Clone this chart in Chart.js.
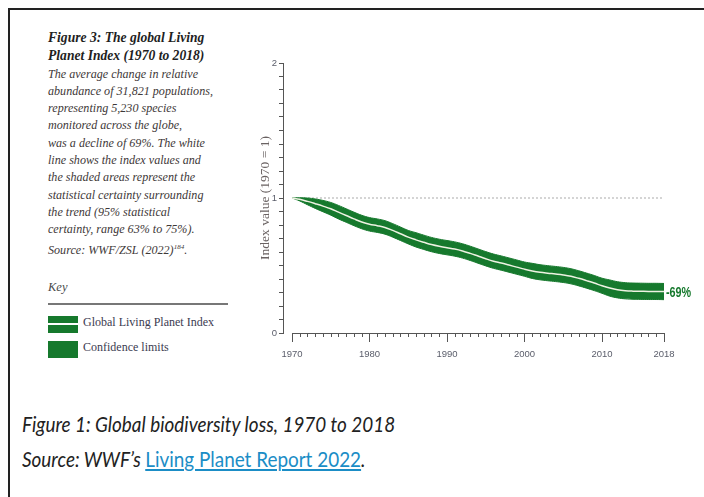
<!DOCTYPE html>
<html>
<head>
    <title>Global Living Planet Index</title>
    <script src="https://cdn.jsdelivr.net/npm/chart.js"></script>
    <style>
        body { margin: 0; background: #fff; width: 704px; height: 497px; overflow: hidden; position: relative; }
        .frame-top { position: absolute; left: 8px; top: 8px; width: 696px; height: 2px; background: #222; }
        .frame-left { position: absolute; left: 8px; top: 8px; width: 2px; height: 489px; background: #222; }
        .side { position: absolute; left: 48px; top: 29px; width: 185px; font-family: 'Liberation Serif', serif; font-style: italic; font-size: 12.1px; line-height: 17.3px; color: #3e3838; white-space: nowrap; }
        .side b { color: #221e1e; font-size: 13.6px; }
        .key { position: absolute; left: 48px; top: 280px; font-family: 'Liberation Serif', serif; font-style: italic; font-size: 12.5px; color: #4a4a4a; }
        .key-rule { position: absolute; left: 48px; top: 303px; width: 180px; height: 2px; background: #777; }
        .swatch { position: absolute; left: 48px; width: 30px; height: 17px; background: #16792d; }
        .swatch .stripe { position: absolute; left: 0; top: 7px; width: 30px; height: 2px; background: #fff; }
        .key-label { position: absolute; left: 83px; font-family: 'Liberation Serif', serif; font-size: 12px; color: #3b3b50; }
        .chart-box { position: absolute; left: 240px; top: 40px; width: 464px; height: 345px; }
        .caption { position: absolute; left: 22px; font-family: Lato, sans-serif; font-style: italic; font-size: 21px; color: #222; white-space: nowrap; transform: scaleX(0.9); transform-origin: left center; }
        .caption a { color: #1b8dc6; text-decoration: underline; font-style: normal; }
    </style>
</head>
<body>
    <div class="frame-top"></div>
    <div class="frame-left"></div>

    <div class="side">
        <b>Figure 3: The global Living<br>Planet Index (1970 to 2018)</b><br>
        The average change in relative<br>
        abundance of 31,821 populations,<br>
        representing 5,230 species<br>
        monitored across the globe,<br>
        was a decline of 69%. The white<br>
        line shows the index values and<br>
        the shaded areas represent the<br>
        statistical certainty surrounding<br>
        the trend (95% statistical<br>
        certainty, range 63% to 75%).<br>
        Source: WWF/ZSL (2022)<sup style="font-size:7px">184</sup>.
    </div>

    <div class="key">Key</div>
    <div class="key-rule"></div>
    <div class="swatch" style="top:316px"><div class="stripe"></div></div>
    <div class="key-label" style="top:315px">Global Living Planet Index</div>
    <div class="swatch" style="top:341px"></div>
    <div class="key-label" style="top:340px">Confidence limits</div>

    <div class="chart-box">
        <canvas id="lpiChart" width="464" height="345"></canvas>
    </div>

    <div class="caption" style="top:411px">Figure 1: Global biodiversity loss, 1970 to 2018</div>
    <div class="caption" style="top:446px">Source: WWF’s <a href="#">Living Planet Report 2022</a>.</div>

    <script>
        // 年份
        const years = [1970, 1971, 1972, 1973, 1974, 1975, 1976, 1977, 1978, 1979,
                       1980, 1981, 1982, 1983, 1984, 1985, 1986, 1987, 1988, 1989,
                       1990, 1991, 1992, 1993, 1994, 1995, 1996, 1997, 1998, 1999,
                       2000, 2001, 2002, 2003, 2004, 2005, 2006, 2007, 2008, 2009,
                       2010, 2011, 2012, 2013, 2014, 2015, 2016, 2017, 2018];

        // 指数值 (白线)
        const indexValues = [1.000, 0.990, 0.975, 0.958, 0.940, 0.920, 0.895, 0.870, 0.845, 0.822,
                             0.805, 0.795, 0.782, 0.760, 0.735, 0.710, 0.690, 0.672, 0.655, 0.642,
                             0.632, 0.622, 0.608, 0.590, 0.570, 0.550, 0.532, 0.518, 0.503, 0.488,
                             0.473, 0.460, 0.450, 0.443, 0.437, 0.430, 0.420, 0.405, 0.388, 0.370,
                             0.350, 0.333, 0.320, 0.313, 0.310, 0.309, 0.308, 0.308, 0.307];

        // 置信上限
        const upperLimit = [1.000, 1.002, 1.000, 0.993, 0.982, 0.967, 0.945, 0.920, 0.895, 0.872,
                            0.855, 0.845, 0.832, 0.810, 0.785, 0.760, 0.743, 0.725, 0.708, 0.695,
                            0.685, 0.675, 0.661, 0.643, 0.623, 0.603, 0.585, 0.571, 0.556, 0.541,
                            0.526, 0.516, 0.506, 0.499, 0.493, 0.486, 0.476, 0.461, 0.444, 0.426,
                            0.406, 0.393, 0.380, 0.373, 0.370, 0.369, 0.368, 0.368, 0.367];

        // 置信下限
        const lowerLimit = [1.000, 0.978, 0.950, 0.923, 0.898, 0.873, 0.845, 0.820, 0.795, 0.772,
                            0.755, 0.745, 0.732, 0.710, 0.685, 0.660, 0.637, 0.619, 0.602, 0.589,
                            0.579, 0.569, 0.555, 0.537, 0.517, 0.497, 0.479, 0.465, 0.450, 0.435,
                            0.420, 0.404, 0.394, 0.387, 0.381, 0.374, 0.364, 0.349, 0.332, 0.314,
                            0.294, 0.273, 0.260, 0.253, 0.250, 0.249, 0.248, 0.248, 0.247];

        // 基准线 (1970 = 1)
        const baselineValue = 1;
        const endLabel = '-69%';

        // x轴标签年份
        const labelYears = [1970, 1980, 1990, 2000, 2010, 2018];

        const green = '#16792d';
        const tickFont = { family: '"Liberation Sans", Arial, sans-serif', size: 9.5 };
        const toPoints = arr => years.map((y, i) => ({ x: y, y: arr[i] }));

        // x轴线和刻度 + 末端标签
        const axisPlugin = {
            id: 'lpiAxis',
            afterDatasetsDraw(chart) {
                const { ctx, scales: { x, y } } = chart;
                const y0 = y.getPixelForValue(0);
                ctx.save();
                ctx.strokeStyle = '#555';
                ctx.lineWidth = 1;
                ctx.beginPath();
                ctx.moveTo(x.getPixelForValue(years[0]), y0 + 0.5);
                ctx.lineTo(x.getPixelForValue(years[years.length - 1]), y0 + 0.5);
                years.forEach(yr => {
                    const px = Math.round(x.getPixelForValue(yr)) + 0.5;
                    const len = labelYears.includes(yr) ? 9 : 4;
                    ctx.moveTo(px, y0);
                    ctx.lineTo(px, y0 + len);
                });
                ctx.stroke();

                // 末端 -69% 标签 (窄体)
                const last = years.length - 1;
                const lx = x.getPixelForValue(years[last]) + 2;
                const ly = y.getPixelForValue(indexValues[last]);
                ctx.translate(lx, ly);
                ctx.scale(0.72, 1);
                ctx.fillStyle = green;
                ctx.font = 'bold 15px "Liberation Sans", Arial, sans-serif';
                ctx.textBaseline = 'middle';
                ctx.fillText(endLabel, 0, 1);
                ctx.restore();
            }
        };

        const ctx = document.getElementById('lpiChart').getContext('2d');
        new Chart(ctx, {
            type: 'line',
            data: {
                datasets: [
                    {
                        label: 'Global Living Planet Index',
                        data: toPoints(indexValues),
                        borderColor: '#eef2e2',
                        borderWidth: 1.5,
                        pointRadius: 0,
                        tension: 0.4,
                        fill: false,
                        order: 0
                    },
                    {
                        label: 'Upper',
                        data: toPoints(upperLimit),
                        borderColor: green,
                        backgroundColor: green,
                        borderWidth: 1,
                        pointRadius: 0,
                        tension: 0.4,
                        fill: '+1',
                        order: 2
                    },
                    {
                        label: 'Lower',
                        data: toPoints(lowerLimit),
                        borderColor: green,
                        borderWidth: 1,
                        pointRadius: 0,
                        tension: 0.4,
                        fill: false,
                        order: 3
                    },
                    {
                        label: 'Baseline',
                        data: [{ x: years[0], y: baselineValue }, { x: years[years.length - 1], y: baselineValue }],
                        borderColor: '#aaa',
                        borderWidth: 1,
                        borderDash: [2, 2],
                        pointRadius: 0,
                        fill: false,
                        order: 4
                    }
                ]
            },
            options: {
                responsive: false,
                animation: false,
                events: [],
                layout: { padding: { top: 23, right: 40, left: 0, bottom: 0 } },
                plugins: {
                    legend: { display: false },
                    tooltip: { enabled: false }
                },
                scales: {
                    x: {
                        type: 'linear',
                        min: 1968.84,
                        max: 2018,
                        afterBuildTicks: scale => { scale.ticks = years.map(v => ({ value: v })); },
                        afterFit: scale => { scale.height = 52; },
                        grid: { display: false, drawTicks: false },
                        border: { display: false },
                        ticks: {
                            autoSkip: false,
                            maxRotation: 0,
                            padding: 16,
                            color: '#5a5d6a',
                            font: tickFont,
                            callback: v => labelYears.includes(v) ? String(v) : ''
                        }
                    },
                    y: {
                        min: 0,
                        max: 2,
                        afterBuildTicks: scale => {
                            const t = [];
                            for (let i = 0; i <= 20; i++) t.push({ value: i / 10 });
                            scale.ticks = t;
                        },
                        afterFit: scale => { scale.width = 43; },
                        grid: { drawOnChartArea: false, drawTicks: true, tickLength: 4, color: '#555' },
                        border: { display: true, color: '#555' },
                        ticks: {
                            autoSkip: false,
                            padding: 2,
                            color: '#5a5d6a',
                            font: tickFont,
                            callback: v => Math.abs(v - Math.round(v)) < 1e-6 ? String(Math.round(v)) : ''
                        },
                        title: {
                            display: true,
                            text: 'Index value (1970 = 1)',
                            color: '#6a6262',
                            padding: { top: 17, bottom: 0 },
                            font: { family: '"Liberation Serif", serif', size: 13.5 }
                        }
                    }
                }
            },
            plugins: [axisPlugin]
        });
    </script>
</body>
</html>
